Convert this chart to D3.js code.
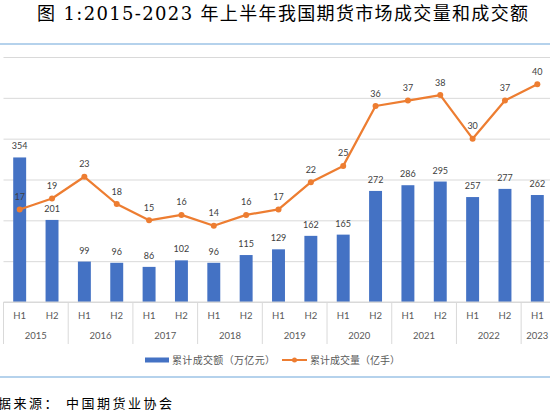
<!DOCTYPE html>
<html>
<head>
<meta charset="utf-8">
<script src="https://cdn.jsdelivr.net/npm/d3@7"></script>
<style>
    body { margin: 0; background: #fff; }
    svg { display: block; }
</style>
</head>
<body>
<svg id="chart"></svg>
<script>
// The data
let halves = ["H1", "H2", "H1", "H2", "H1", "H2", "H1", "H2", "H1", "H2",
    "H1", "H2", "H1", "H2", "H1", "H2", "H1"];
let years = ["2015", "2016", "2017", "2018", "2019", "2020", "2021", "2022", "2023"];
let turnover = [354, 201, 99, 96, 86, 102, 96, 115, 129, 162, 165, 272, 286, 295, 257, 277, 262]; // 万亿元
let volume = [17, 19, 23, 18, 15, 16, 14, 16, 17, 22, 25, 36, 37, 38, 30, 37, 40];              // 亿手
let turnoverTicks = [0, 100, 200, 300, 400, 500, 600];

let titleText = "图 1:2015-2023 年上半年我国期货市场成交量和成交额";
let legendBar = "累计成交额（万亿元）";
let legendLine = "累计成交量（亿手）";

// Global-ish stuff, same as always
let scales = {};
let config = { svg: {}, plot: {} };

config.svg.width = 550;
config.svg.height = 412;
config.plot.left = 3.5;
config.plot.right = 553.5;     // the picture cuts the plot off on the right
config.plot.top = 57;
config.plot.bottom = 302;

let blue = "#4472C4";
let orange = "#ED7D31";
let grey = "#d9d9d9";
let labelColor = "#404040";
let cjk = "'Noto Sans CJK SC', sans-serif";
let latin = "Lato, 'Noto Sans CJK SC', sans-serif";

let svg = d3.select("#chart")
    .attr("width", config.svg.width)
    .attr("height", config.svg.height);

// Title
svg.append("text")
    .attr("x", 37)
    .attr("y", 20)
    .attr("textLength", 491)
    .attr("lengthAdjust", "spacing")
    .style("font-family", "'DejaVu Serif', 'Noto Sans CJK SC', serif")
    .style("font-size", "18px")
    .style("fill", "#000")
    .text(titleText);

// Two thin light-blue rules around the chart
[44, 377].forEach(y => {
    svg.append("line")
        .attr("x1", 0).attr("x2", config.svg.width)
        .attr("y1", y).attr("y2", y)
        .style("stroke", "#9dc3e6")
        .style("stroke-width", 1.5);
});

// Scales
let idx = d3.range(halves.length);
scales.x = d3.scaleBand()
    .domain(idx)
    .range([config.plot.left, config.plot.right])
    .padding(0);

scales.turnover = d3.scaleLinear()
    .domain([0, 600])
    .range([config.plot.bottom, config.plot.top]);

scales.volume = d3.scaleLinear()
    .domain([0, 45])
    .range([config.plot.bottom, config.plot.top]);

// Gridlines
let grid = svg.append("g").attr("class", "gridlines");
grid.call(d3.axisLeft(scales.turnover)
        .tickValues(turnoverTicks)
        .tickSize(-(config.svg.width - config.plot.left))
        .tickFormat(""))
    .attr("transform", translate(config.plot.left, 0));
grid.select(".domain").remove();
grid.selectAll(".tick line").style("stroke", grey).style("stroke-width", 1);

// Bars
let bw = scales.x.bandwidth() * 0.4;
svg.append("g").attr("id", "bars")
    .selectAll("rect")
    .data(turnover)
    .enter()
    .append("rect")
    .attr("x", (d, i) => scales.x(i) + (scales.x.bandwidth() - bw) / 2)
    .attr("y", d => scales.turnover(d))
    .attr("width", bw)
    .attr("height", d => scales.turnover(0) - scales.turnover(d))
    .style("fill", blue);

// Category axis: base line, year separators, two rows of labels
let axis = svg.append("g").attr("id", "x-axis");
axis.append("line")
    .attr("x1", config.plot.left).attr("x2", config.svg.width)
    .attr("y1", config.plot.bottom).attr("y2", config.plot.bottom)
    .style("stroke", grey);

let yearEdges = years.map((y, i) => scales.x(i * 2));
axis.selectAll(".sep")
    .data(yearEdges)
    .enter()
    .append("line")
    .attr("class", "sep")
    .attr("x1", d => d).attr("x2", d => d)
    .attr("y1", config.plot.bottom).attr("y2", 344)
    .style("stroke", grey);

axis.selectAll(".half")
    .data(halves)
    .enter()
    .append("text")
    .attr("class", "half")
    .attr("x", (d, i) => scales.x(i) + scales.x.bandwidth() / 2)
    .attr("y", 318.5)
    .attr("text-anchor", "middle")
    .style("font-family", latin)
    .style("font-size", "9.5px")
    .style("fill", "#595959")
    .text(d => d);

axis.selectAll(".year")
    .data(years)
    .enter()
    .append("text")
    .attr("class", "year")
    .attr("x", (d, i) => {
        let n = Math.min(2, halves.length - i * 2);   // 2023 only has H1
        return scales.x(i * 2) + n * scales.x.bandwidth() / 2;
    })
    .attr("y", 338.5)
    .attr("text-anchor", "middle")
    .style("font-family", latin)
    .style("font-size", "9.5px")
    .style("fill", "#595959")
    .text(d => d);

// Line for volume
let line = d3.line()
    .x((d, i) => scales.x(i) + scales.x.bandwidth() / 2)
    .y(d => scales.volume(d));

svg.append("path")
    .datum(volume)
    .attr("d", line)
    .style("fill", "none")
    .style("stroke", orange)
    .style("stroke-width", 2.25)
    .style("stroke-linejoin", "round");

svg.append("g").attr("id", "dots")
    .selectAll("circle")
    .data(volume)
    .enter()
    .append("circle")
    .attr("cx", (d, i) => scales.x(i) + scales.x.bandwidth() / 2)
    .attr("cy", d => scales.volume(d))
    .attr("r", 3)
    .style("fill", orange);

// Data labels
svg.append("g").attr("id", "bar-labels")
    .selectAll("text")
    .data(turnover)
    .enter()
    .append("text")
    .attr("x", (d, i) => scales.x(i) + scales.x.bandwidth() / 2)
    .attr("y", d => scales.turnover(d) - 8)
    .attr("text-anchor", "middle")
    .style("font-family", latin)
    .style("font-size", "9px")
    .style("fill", labelColor)
    .text(d => d);

svg.append("g").attr("id", "line-labels")
    .selectAll("text")
    .data(volume)
    .enter()
    .append("text")
    .attr("x", (d, i) => scales.x(i) + scales.x.bandwidth() / 2)
    .attr("y", d => scales.volume(d) - 9.5)
    .attr("text-anchor", "middle")
    .style("font-family", latin)
    .style("font-size", "9px")
    .style("fill", labelColor)
    .text(d => d);

// Legend
let legend = svg.append("g").attr("id", "legend");
legend.append("rect")
    .attr("x", 145).attr("y", 357.5)
    .attr("width", 24).attr("height", 5)
    .style("fill", blue);
legend.append("text")
    .attr("x", 172).attr("y", 363.5)
    .attr("textLength", 103)
    .style("font-family", cjk)
    .style("font-size", "10px")
    .style("fill", "#595959")
    .text(legendBar);
legend.append("line")
    .attr("x1", 282).attr("x2", 307)
    .attr("y1", 360).attr("y2", 360)
    .style("stroke", orange)
    .style("stroke-width", 2);
legend.append("circle")
    .attr("cx", 294.5).attr("cy", 360).attr("r", 2.5)
    .style("fill", orange);
legend.append("text")
    .attr("x", 310).attr("y", 363.5)
    .attr("textLength", 90)
    .style("font-family", cjk)
    .style("font-size", "10px")
    .style("fill", "#595959")
    .text(legendLine);

// Source line at the bottom (left part is cut off in the picture)
let source = svg.append("text")
    .attr("y", 408)
    .style("font-family", cjk)
    .style("font-size", "13px")
    .style("fill", "#000")
    .style("letter-spacing", "2.5px");
source.append("tspan").attr("x", -17.5).text("数据来源：");
source.append("tspan").attr("x", 66).text("中国期货业协会");

function translate(x, y) {
    return 'translate(' + x + ',' + y + ')';
}
</script>
</body>
</html>
